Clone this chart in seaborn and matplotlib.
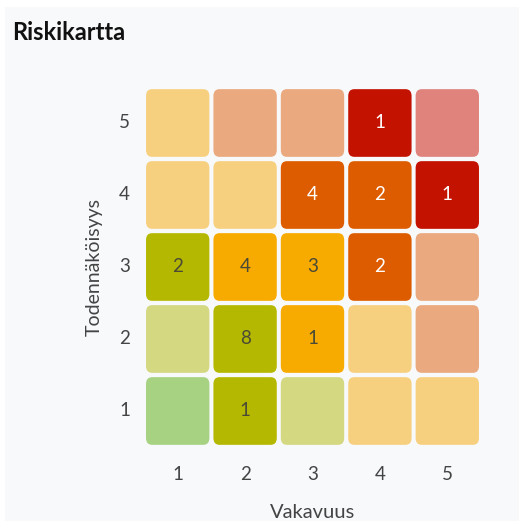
import numpy as np
import pandas as pd
import matplotlib
matplotlib.use("Agg")
import matplotlib.pyplot as plt
from matplotlib.colors import ListedColormap, BoundaryNorm
from matplotlib.patches import FancyBboxPatch, Rectangle
import seaborn as sns

# ---------------- data ----------------
severity = [1, 2, 3, 4, 5]          # Vakavuus (x)
likelihood = [5, 4, 3, 2, 1]        # Todennäköisyys (y, top -> bottom)

# colour class of each cell (rows top->bottom = likelihood 5..1)
level_colors = ["#A6D282", "#D4D880", "#B5B800", "#F7D07F", "#F7AA00",
                "#EAA97F", "#DD5C00", "#DF837C", "#C41200"]
cell_level = [
    [3, 5, 5, 8, 7],
    [3, 3, 6, 6, 8],
    [2, 4, 4, 6, 5],
    [1, 2, 4, 3, 5],
    [0, 2, 1, 3, 3],
]
# number of risks in each cell (0 = empty)
counts = [
    [0, 0, 0, 1, 0],
    [0, 0, 4, 2, 1],
    [2, 4, 3, 2, 0],
    [0, 8, 1, 0, 0],
    [0, 1, 0, 0, 0],
]

bg = "#F8F9FB"
plt.rcParams["font.family"] = ["Lato", "DejaVu Sans"]

lev = pd.DataFrame(cell_level, index=likelihood, columns=severity)
cnt = pd.DataFrame(counts, index=likelihood, columns=severity)

cmap = ListedColormap(level_colors)
norm = BoundaryNorm(np.arange(-0.5, len(level_colors) + 0.5), cmap.N)

fig = plt.figure(figsize=(5.19, 5.21), dpi=100)
fig.patch.set_facecolor("white")
fig.add_artist(Rectangle((5 / 519, 0), 1, 1 - 7 / 521, transform=fig.transFigure,
                         facecolor=bg, edgecolor="none", zorder=-1))

ax = fig.add_axes([144 / 519, 1 - 447 / 521, 337 / 519, 360 / 521])
ax.set_facecolor(bg)
sns.heatmap(lev, cmap=cmap, norm=norm, cbar=False, ax=ax)

# swap the square cells for rounded tiles, same colours from the heatmap's scale
mesh = ax.collections[0]
mesh.set_visible(False)
gap = 0.03
for i in range(lev.shape[0]):
    for j in range(lev.shape[1]):
        col = mesh.cmap(mesh.norm(lev.iat[i, j]))
        ax.add_patch(FancyBboxPatch((j + gap, i + gap), 1 - 2 * gap, 1 - 2 * gap,
                                    boxstyle="round,pad=0,rounding_size=0.09",
                                    facecolor=col, edgecolor="none",
                                    mutation_aspect=68 / 64))
        n = cnt.iat[i, j]
        if n:
            dark = lev.iat[i, j] in (6, 8)
            ax.text(j + 0.5, i + 0.5, str(n), ha="center", va="center",
                    fontsize=13.5, color="white" if dark else "#4A4A36")

for s in ax.spines.values():
    s.set_visible(False)
ax.tick_params(length=0, labelsize=13.5, labelcolor="#444444")
ax.tick_params(axis="x", pad=14)
ax.set_yticklabels(likelihood, rotation=0)
ax.tick_params(axis="y", pad=10)
ax.set_xlabel("Vakavuus", fontsize=14.5, color="#444444", labelpad=14.5)
ax.set_ylabel("Todennäköisyys", fontsize=14, color="#444444", labelpad=12)

fig.text(12 / 519, 1 - 33 / 521, "Riskikartta", fontsize=17, fontweight="bold",
         color="#111111", va="center", ha="left")

fig.savefig("out.png", dpi=100, facecolor=fig.get_facecolor())
